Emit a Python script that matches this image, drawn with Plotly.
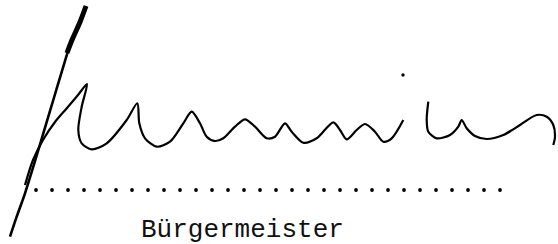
import plotly.graph_objects as go

# Signature strokes (image pixel coordinates, y downward)
stem_x = [86, 80, 71.7, 63.3, 53.3, 43.3, 33.3, 25, 16.7, 10]
stem_y = [6, 22, 40, 66.7, 100, 133.3, 166.7, 193.3, 216.7, 236.7]

stem_top_x = [86, 80, 72, 67]
stem_top_y = [6, 22, 40, 53]

wave_x = [25, 33, 43, 55, 67, 78, 87, 81.7, 78.3, 81.7, 91.7, 106.7, 126.7, 137.3,
          139.3, 145, 156.7, 170, 183.3, 191.7, 200, 206.7, 215, 223.3, 235, 245,
          255, 266.7, 275, 285, 291.7, 303.3, 316.7, 333.3, 340, 346.7, 356.7, 365,
          375, 383.3, 391.7, 403.3]
wave_y = [185, 160, 140, 122, 108, 95, 84, 106.7, 130, 143.3, 149.3, 143.3, 120, 103.3,
          123.3, 138.3, 146.7, 141.7, 123.3, 111.7, 123.3, 136.7, 141, 138.3, 126.7, 119.3,
          126.7, 138.3, 136.7, 123.3, 131.7, 142.7, 138.3, 122.3, 130, 139.3, 130, 124,
          131.7, 141.7, 138.3, 120]

tail_x = [428.3, 426.7, 428.3, 436.7, 450, 458.3, 461.7, 466.7, 475, 486.7, 503.3,
          520, 536.7, 546.7, 553.3, 555, 553.3]
tail_y = [101.7, 120, 131.7, 138.3, 135, 126.7, 120, 128.3, 136, 139, 135,
          125, 115, 116.7, 125, 136.7, 145]

speck_x = [403]
speck_y = [75]

dot_x = [36, 52, 68, 84, 100, 116, 132, 148, 164, 180, 196, 212, 228, 244, 260,
         276, 292, 308, 324, 340, 356, 372, 388, 404, 420, 436, 452, 468, 484, 500]
dot_y = [190] * len(dot_x)

caption = "Bürgermeister"

ink = "#000000"
fig = go.Figure()
fig.add_trace(go.Scatter(x=stem_x, y=stem_y, mode="lines",
                         line=dict(color=ink, width=2.6, shape="spline")))
fig.add_trace(go.Scatter(x=stem_top_x, y=stem_top_y, mode="lines",
                         line=dict(color=ink, width=5, shape="spline")))
fig.add_trace(go.Scatter(x=wave_x, y=wave_y, mode="lines",
                         line=dict(color=ink, width=2.2, shape="spline", smoothing=0.8)))
fig.add_trace(go.Scatter(x=tail_x, y=tail_y, mode="lines",
                         line=dict(color=ink, width=2.2, shape="spline", smoothing=0.8)))
fig.add_trace(go.Scatter(x=speck_x, y=speck_y, mode="markers",
                         marker=dict(color=ink, size=3.5)))
fig.add_trace(go.Scatter(x=dot_x, y=dot_y, mode="markers",
                         marker=dict(color=ink, size=3.8, symbol="circle")))

fig.add_annotation(x=242, y=230, text=caption, showarrow=False,
                   xanchor="center", yanchor="middle",
                   font=dict(family="Liberation Mono", size=26, color="#111111"))

fig.update_layout(width=558, height=244, margin=dict(l=0, r=0, t=0, b=0),
                  paper_bgcolor="white", plot_bgcolor="white", showlegend=False,
                  xaxis=dict(range=[0, 558], visible=False, fixedrange=True),
                  yaxis=dict(range=[244, 0], visible=False, fixedrange=True))
fig.write_html("out.html", config={"displayModeBar": False, "staticPlot": True},
               post_script="document.body.style.margin='0';document.body.style.overflow='hidden';")
